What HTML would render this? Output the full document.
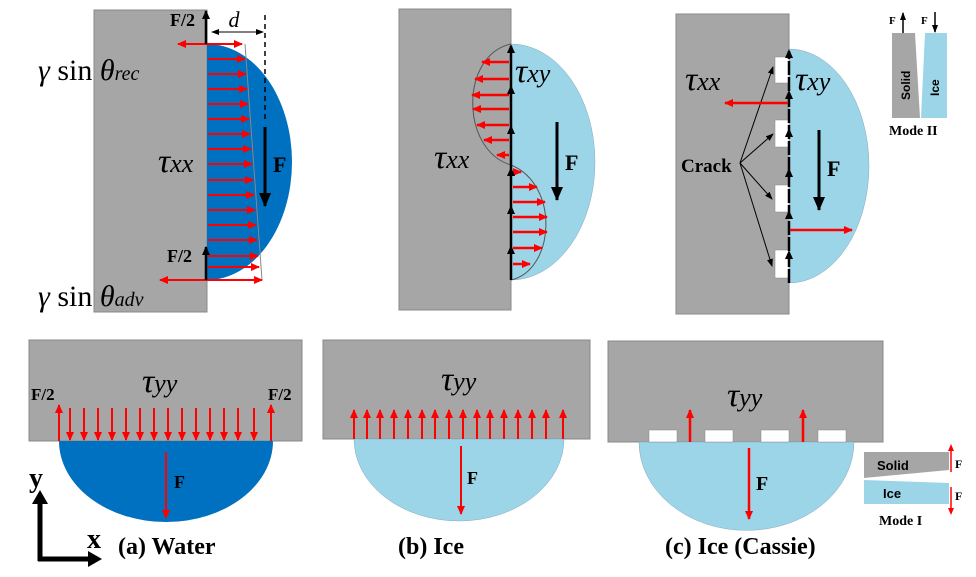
<!DOCTYPE html>
<html><head><meta charset="utf-8"><style>
html,body{margin:0;padding:0;background:#fff;}
svg{display:block;}
.s{font-family:"Liberation Serif",serif;}
.b{font-weight:bold;}
</style></head><body>
<svg width="976" height="577" viewBox="0 0 976 577" xmlns="http://www.w3.org/2000/svg">
<defs>
<marker id="r" markerWidth="9" markerHeight="8" refX="8" refY="4" orient="auto" markerUnits="userSpaceOnUse"><path d="M0,0 L9,4 L0,8 z" fill="#f00"/></marker>
<marker id="k" markerWidth="14" markerHeight="12" refX="13" refY="6" orient="auto" markerUnits="userSpaceOnUse"><path d="M0,0 L14,6 L0,12 z" fill="#000"/></marker>
<marker id="ks" markerWidth="9" markerHeight="8" refX="8" refY="4" orient="auto" markerUnits="userSpaceOnUse"><path d="M0,0 L9,4 L0,8 z" fill="#000"/></marker>
<marker id="k2" markerWidth="8" markerHeight="6" refX="7" refY="3" orient="auto" markerUnits="userSpaceOnUse"><path d="M0,0 L8,3 L0,6 z" fill="#000"/></marker>
</defs>

<!-- ===== Top (a) ===== -->
<rect x="94" y="10" width="113" height="302" fill="#a6a6a6" stroke="#888"/>
<path d="M207,44 A85,118 0 0 1 207,280 Z" fill="#0070c0"/>
<line x1="245" y1="44" x2="262" y2="280" stroke="#888" stroke-width="1"/>
<g stroke="#f00" stroke-width="2" marker-end="url(#r)">
<line x1="208" y1="59" x2="245" y2="59"/><line x1="208" y1="74" x2="246" y2="74"/>
<line x1="208" y1="89" x2="247" y2="89"/><line x1="208" y1="104" x2="248" y2="104"/>
<line x1="208" y1="119" x2="249" y2="119"/><line x1="208" y1="134" x2="250" y2="134"/>
<line x1="208" y1="149" x2="251" y2="149"/><line x1="208" y1="164" x2="252" y2="164"/>
<line x1="208" y1="180" x2="253" y2="180"/><line x1="208" y1="195" x2="254" y2="195"/>
<line x1="208" y1="210" x2="255" y2="210"/><line x1="208" y1="225" x2="256" y2="225"/>
<line x1="208" y1="240" x2="257" y2="240"/><line x1="208" y1="256" x2="258" y2="256"/>
<line x1="208" y1="267" x2="259" y2="267"/>
<line x1="207" y1="44" x2="242" y2="44"/><line x1="207" y1="44" x2="178" y2="44"/>
<line x1="207" y1="280" x2="262" y2="280"/><line x1="207" y1="280" x2="160" y2="280"/>
</g>
<g stroke="#000" stroke-width="2.5" marker-end="url(#ks)">
<line x1="206" y1="44" x2="206" y2="11"/><line x1="206" y1="280" x2="206" y2="247"/>
</g>
<line x1="265" y1="15" x2="265" y2="122" stroke="#000" stroke-width="1.5" stroke-dasharray="5,4"/>
<line x1="265" y1="127" x2="265" y2="206" stroke="#000" stroke-width="3" marker-end="url(#k)"/>
<line x1="213" y1="32" x2="263" y2="32" stroke="#000" stroke-width="1" marker-end="url(#k2)"/>
<path d="M211,32 L219,29 L219,35 z" fill="#000"/>
<text x="234" y="27" class="s" font-style="italic" font-size="22" text-anchor="middle">d</text>
<text x="170" y="26" class="s b" font-size="18">F/2</text>
<text x="167" y="262" class="s b" font-size="18">F/2</text>
<text x="273" y="172" class="s b" font-size="22">F</text>
<text x="158" y="172" class="s" font-style="italic" font-size="34">τ<tspan font-size="26">xx</tspan></text>
<text x="38" y="80" class="s" font-size="30"><tspan font-style="italic">γ</tspan> sin <tspan font-style="italic">θ</tspan><tspan font-style="italic" font-size="20">rec</tspan></text>
<text x="38" y="306" class="s" font-size="30"><tspan font-style="italic">γ</tspan> sin <tspan font-style="italic">θ</tspan><tspan font-style="italic" font-size="20">adv</tspan></text>

<!-- ===== Top (b) ===== -->
<rect x="399" y="9" width="112" height="301" fill="#a6a6a6" stroke="#888"/>
<path d="M511,44 A84,118 0 0 1 511,280 Z" fill="#9dd5e8" stroke="#8ab" stroke-width="0.5"/>
<path d="M511,44 C460,55 460,150 511,165 C560,185 555,270 511,280" fill="none" stroke="#555" stroke-width="1"/>
<g stroke="#f00" stroke-width="2.5" marker-end="url(#r)">
<line x1="509" y1="62" x2="482" y2="62"/><line x1="509" y1="79" x2="475" y2="79"/>
<line x1="509" y1="95" x2="472" y2="95"/><line x1="509" y1="109" x2="473" y2="109"/>
<line x1="509" y1="125" x2="477" y2="125"/><line x1="509" y1="140" x2="484" y2="140"/>
<line x1="509" y1="155" x2="497" y2="155"/>
<line x1="513" y1="172" x2="521" y2="172"/><line x1="513" y1="187" x2="537" y2="187"/>
<line x1="513" y1="202" x2="545" y2="202"/><line x1="513" y1="217" x2="547" y2="217"/>
<line x1="513" y1="232" x2="547" y2="232"/><line x1="513" y1="248" x2="542" y2="248"/>
<line x1="513" y1="264" x2="530" y2="264"/>
</g>
<line x1="511" y1="280" x2="511" y2="46" stroke="#000" stroke-width="2.5"/>
<g fill="#000">
<path d="M511,44 l-4,9 h8z"/><path d="M511,85 l-4,9 h8z"/><path d="M511,125 l-4,9 h8z"/>
<path d="M511,167 l-4,9 h8z"/><path d="M511,205 l-4,9 h8z"/><path d="M511,245 l-4,9 h8z"/>
</g>
<line x1="557" y1="122" x2="557" y2="200" stroke="#000" stroke-width="3" marker-end="url(#k)"/>
<text x="565" y="170" class="s b" font-size="22">F</text>
<text x="515" y="82" class="s" font-style="italic" font-size="34">τ<tspan font-size="26">xy</tspan></text>
<text x="434" y="168" class="s" font-style="italic" font-size="34">τ<tspan font-size="26">xx</tspan></text>

<!-- ===== Top (c) ===== -->
<rect x="676" y="14" width="113" height="300" fill="#a6a6a6" stroke="#888"/>
<path d="M789,49 A80,117 0 0 1 789,283 Z" fill="#9dd5e8" stroke="#8ab" stroke-width="0.5"/>
<g fill="#fff" stroke="#888" stroke-width="0.5">
<rect x="775" y="57" width="14" height="26"/><rect x="775" y="120" width="14" height="27"/>
<rect x="775" y="185" width="14" height="27"/><rect x="775" y="250" width="14" height="28"/>
</g>
<line x1="789" y1="283" x2="789" y2="51" stroke="#000" stroke-width="2.5" stroke-dasharray="14,2"/>
<g fill="#000">
<path d="M789,49 l-4,9 h8z"/><path d="M789,90 l-4,9 h8z"/><path d="M789,128 l-4,9 h8z"/>
<path d="M789,168 l-4,9 h8z"/><path d="M789,210 l-4,9 h8z"/><path d="M789,250 l-4,9 h8z"/>
</g>
<g stroke="#000" stroke-width="1" marker-end="url(#k2)">
<line x1="740" y1="163" x2="773" y2="67"/><line x1="740" y1="163" x2="773" y2="134"/>
<line x1="740" y1="163" x2="772" y2="199"/><line x1="740" y1="163" x2="772" y2="266"/>
</g>
<g stroke="#f00" stroke-width="2.5" marker-end="url(#r)">
<line x1="788" y1="103" x2="725" y2="103"/><line x1="790" y1="230" x2="852" y2="230"/>
</g>
<line x1="819" y1="130" x2="819" y2="210" stroke="#000" stroke-width="3" marker-end="url(#k)"/>
<text x="827" y="176" class="s b" font-size="22">F</text>
<text x="681" y="172" class="s b" font-size="19">Crack</text>
<text x="685" y="90" class="s" font-style="italic" font-size="34">τ<tspan font-size="26">xx</tspan></text>
<text x="795" y="90" class="s" font-style="italic" font-size="34">τ<tspan font-size="26">xy</tspan></text>
<!-- Mode II -->
<path d="M892,33 L915,33 L920,118 L892,118 Z" fill="#a6a6a6"/>
<path d="M925,33 L947,33 L947,118 L921,118 Z" fill="#9dd5e8"/>
<line x1="903" y1="33" x2="903" y2="13" stroke="#000" stroke-width="1.5" marker-end="url(#k2)"/>
<line x1="935" y1="12" x2="935" y2="32" stroke="#000" stroke-width="1.5" marker-end="url(#k2)"/>
<text x="889" y="24" class="s b" font-size="11">F</text>
<text x="921" y="24" class="s b" font-size="11">F</text>
<text transform="translate(910,100) rotate(-90)" font-family="Liberation Sans,sans-serif" font-weight="bold" font-size="12">Solid</text>
<text transform="translate(939,96) rotate(-90)" font-family="Liberation Sans,sans-serif" font-weight="bold" font-size="12">Ice</text>
<text x="889" y="135" class="s b" font-size="14">Mode II</text>

<!-- ===== Bottom (a) ===== -->
<rect x="29" y="340" width="273" height="101" fill="#a6a6a6" stroke="#888"/>
<path d="M59,441 A107,81 0 0 0 273,441 Z" fill="#0070c0"/>
<g stroke="#f00" stroke-width="2" marker-end="url(#r)">
<line x1="59" y1="441" x2="59" y2="405"/><line x1="271" y1="441" x2="271" y2="405"/>
<line x1="70" y1="408" x2="70" y2="440"/><line x1="84" y1="408" x2="84" y2="440"/>
<line x1="98" y1="408" x2="98" y2="440"/><line x1="112" y1="408" x2="112" y2="440"/>
<line x1="126" y1="408" x2="126" y2="440"/><line x1="140" y1="408" x2="140" y2="440"/>
<line x1="154" y1="408" x2="154" y2="440"/><line x1="168" y1="408" x2="168" y2="440"/>
<line x1="182" y1="408" x2="182" y2="440"/><line x1="196" y1="408" x2="196" y2="440"/>
<line x1="210" y1="408" x2="210" y2="440"/><line x1="224" y1="408" x2="224" y2="440"/>
<line x1="238" y1="408" x2="238" y2="440"/><line x1="254" y1="408" x2="254" y2="440"/>
<line x1="166" y1="452" x2="166" y2="518"/>
</g>
<text x="174" y="488" class="s b" font-size="18">F</text>
<text x="31" y="400" class="s b" font-size="17">F/2</text>
<text x="268" y="400" class="s b" font-size="17">F/2</text>
<text x="142" y="392" class="s" font-style="italic" font-size="34">τ<tspan font-size="26">yy</tspan></text>
<line x1="40" y1="561" x2="40" y2="500" stroke="#000" stroke-width="5"/>
<path d="M40,490 l-8,14 h16z" fill="#000"/>
<line x1="38" y1="559" x2="92" y2="559" stroke="#000" stroke-width="5"/>
<path d="M102,559 l-14,-8 v16z" fill="#000"/>
<text x="29" y="487" class="s b" font-size="28">y</text>
<text x="87" y="548" class="s b" font-size="28">x</text>
<text x="118" y="554" class="s b" font-size="24">(a) Water</text>

<!-- ===== Bottom (b) ===== -->
<rect x="323" y="340" width="267" height="99" fill="#a6a6a6" stroke="#888"/>
<path d="M354,439 A105,82 0 0 0 564,439 Z" fill="#9dd5e8" stroke="#8ab" stroke-width="0.5"/>
<g stroke="#f00" stroke-width="2" marker-end="url(#r)">
<line x1="354" y1="439" x2="354" y2="410"/><line x1="367" y1="439" x2="367" y2="410"/>
<line x1="380" y1="439" x2="380" y2="410"/><line x1="394" y1="439" x2="394" y2="410"/>
<line x1="408" y1="439" x2="408" y2="410"/><line x1="422" y1="439" x2="422" y2="410"/>
<line x1="435" y1="439" x2="435" y2="410"/><line x1="449" y1="439" x2="449" y2="410"/>
<line x1="463" y1="439" x2="463" y2="410"/><line x1="477" y1="439" x2="477" y2="410"/>
<line x1="490" y1="439" x2="490" y2="410"/><line x1="504" y1="439" x2="504" y2="410"/>
<line x1="518" y1="439" x2="518" y2="410"/><line x1="532" y1="439" x2="532" y2="410"/>
<line x1="546" y1="439" x2="546" y2="410"/><line x1="563" y1="439" x2="563" y2="410"/>
<line x1="461" y1="446" x2="461" y2="514"/>
</g>
<text x="467" y="484" class="s b" font-size="18">F</text>
<text x="441" y="390" class="s" font-style="italic" font-size="34">τ<tspan font-size="26">yy</tspan></text>
<text x="398" y="554" class="s b" font-size="24">(b) Ice</text>

<!-- ===== Bottom (c) ===== -->
<rect x="608" y="341" width="275" height="101" fill="#a6a6a6" stroke="#888"/>
<path d="M639,442 A107,88 0 0 0 854,442 Z" fill="#9dd5e8" stroke="#8ab" stroke-width="0.5"/>
<g fill="#fff" stroke="#888" stroke-width="0.5">
<rect x="649" y="430" width="28" height="12"/><rect x="705" y="430" width="28" height="12"/>
<rect x="761" y="430" width="28" height="12"/><rect x="818" y="430" width="28" height="12"/>
</g>
<g stroke="#f00" stroke-width="2.5" marker-end="url(#r)">
<line x1="690" y1="442" x2="690" y2="410"/><line x1="803" y1="442" x2="803" y2="410"/>
<line x1="749" y1="448" x2="749" y2="519"/>
</g>
<text x="756" y="490" class="s b" font-size="20">F</text>
<text x="727" y="406" class="s" font-style="italic" font-size="34">τ<tspan font-size="26">yy</tspan></text>
<text x="665" y="554" class="s b" font-size="24">(c) Ice (Cassie)</text>
<!-- Mode I -->
<path d="M864,452 L949,452 L949,470 L864,478 Z" fill="#a6a6a6"/>
<path d="M864,480 L949,483 L949,504 L864,504 Z" fill="#9dd5e8"/>
<g stroke="#f00" stroke-width="1.5">
<line x1="951" y1="472" x2="951" y2="450"/><line x1="951" y1="487" x2="951" y2="509"/>
</g>
<path d="M951,444 l-3,7 h6z M951,515 l-3,-7 h6z" fill="#f00"/>
<text x="955" y="468" class="s b" font-size="12">F</text>
<text x="955" y="500" class="s b" font-size="12">F</text>
<text x="877" y="470" font-family="Liberation Sans,sans-serif" font-weight="bold" font-size="13" fill="#000">Solid</text>
<text x="883" y="498" font-family="Liberation Sans,sans-serif" font-weight="bold" font-size="13" fill="#000">Ice</text>
<text x="879" y="525" class="s b" font-size="14">Mode I</text>
</svg>
</body></html>
